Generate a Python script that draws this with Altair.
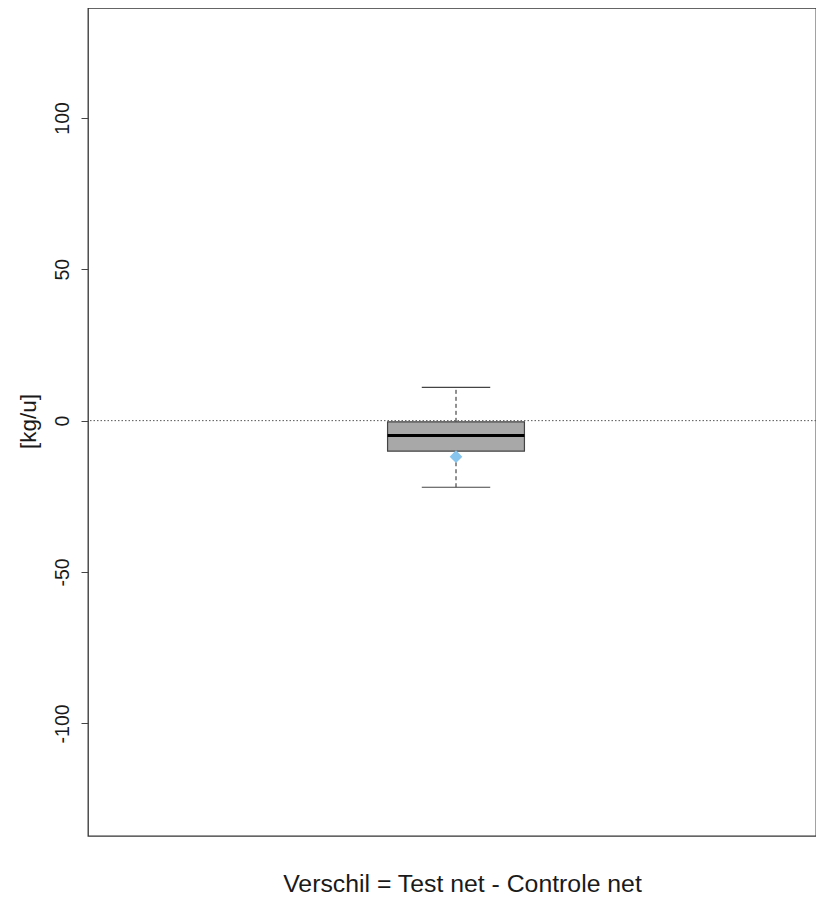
import altair as alt
import pandas as pd

# --- data ---
groups = ["Verschil"]
pos = [1.0]
q1 = [-10.1]
median = [-4.9]
q3 = [-0.4]
whisker_low = [-22.0]
whisker_high = [11.0]
mean = [-11.9]
y_ticks = [-100, -50, 0, 50, 100]
ref_value = [0]

BOX_HALF = 0.094
CAP_HALF = 0.047
Y_DOMAIN = [-137.2, 136.3]
X_DOMAIN = [0.4945, 1.4945]
FONT = "Liberation Sans"
PLOT_W = 728
PLOT_H = 828

df = pd.DataFrame({
    "group": groups, "pos": pos, "q1": q1, "median": median, "q3": q3,
    "wlo": whisker_low, "whi": whisker_high, "mean": mean,
})
df["box_lo"] = df["pos"] - BOX_HALF
df["box_hi"] = df["pos"] + BOX_HALF
df["cap_lo"] = df["pos"] - CAP_HALF
df["cap_hi"] = df["pos"] + CAP_HALF
ref = pd.DataFrame({"v": ref_value})

yscale = alt.Scale(domain=Y_DOMAIN, nice=False, zero=False)
xscale = alt.Scale(domain=X_DOMAIN, nice=False, zero=False)

yaxis = alt.Axis(values=y_ticks, labelAngle=-90, labelAlign="center", labelBaseline="alphabetic",
                 labelExpr="replace(datum.label, '\u2212', '-')",
                 tickSize=7, labelPadding=13, labelFontSize=19.5, labelColor="#1a1a1a",
                 tickColor="#444", tickWidth=1, domain=False, grid=False, title="[kg/u]",
                 titleFontSize=22.5, titleFontWeight="normal", titleColor="#1a1a1a",
                 titleAngle=-90, titleAlign="center", titleBaseline="alphabetic",
                 titleX=-52.6, titleY=413, labelFont=FONT, titleFont=FONT)
xaxis = alt.Axis(labels=False, ticks=False, domain=False, grid=False,
                 title="Verschil = Test net - Controle net", titleFontSize=24.8,
                 titleFontWeight="normal", titleColor="#1a1a1a",
                 titleAlign="center", titleBaseline="alphabetic",
                 titleX=374, titleY=55, titleFont=FONT)

refline = alt.Chart(ref).mark_rule(color="#555", strokeDash=[1.5, 2], strokeWidth=1).encode(
    y=alt.Y("v:Q", scale=yscale, axis=yaxis)
)

base = alt.Chart(df)

wh_up = base.mark_rule(color="#222", strokeDash=[4, 3], strokeWidth=1).encode(
    x=alt.X("pos:Q", scale=xscale, axis=xaxis),
    y=alt.Y("q3:Q", scale=yscale), y2="whi:Q")
wh_lo = base.mark_rule(color="#222", strokeDash=[4, 3], strokeWidth=1).encode(
    x=alt.X("pos:Q", scale=xscale), y=alt.Y("wlo:Q", scale=yscale), y2="q1:Q")
cap_up = base.mark_rule(color="#444", strokeWidth=1.2).encode(
    x=alt.X("cap_lo:Q", scale=xscale), x2="cap_hi:Q", y=alt.Y("whi:Q", scale=yscale))
cap_lo = base.mark_rule(color="#444", strokeWidth=1.2).encode(
    x=alt.X("cap_lo:Q", scale=xscale), x2="cap_hi:Q", y=alt.Y("wlo:Q", scale=yscale))
box = base.mark_rect(fill="#a8a8a8", stroke="#444", strokeWidth=1.2).encode(
    x=alt.X("box_lo:Q", scale=xscale), x2="box_hi:Q",
    y=alt.Y("q1:Q", scale=yscale), y2="q3:Q")
med = base.mark_rule(color="#000", strokeWidth=3).encode(
    x=alt.X("box_lo:Q", scale=xscale), x2="box_hi:Q", y=alt.Y("median:Q", scale=yscale))
mn = base.mark_point(shape="diamond", filled=True, color="#87c4ee", opacity=1, size=160).encode(
    x=alt.X("pos:Q", scale=xscale), y=alt.Y("mean:Q", scale=yscale))

chart = alt.layer(refline, wh_up, wh_lo, cap_up, cap_lo, box, med, mn).properties(
    width=PLOT_W, height=PLOT_H,
    autosize=alt.AutoSizeParams(type="none"),
    padding={"left": 80, "top": 0, "right": 0, "bottom": 59},
    background="white",
).configure_view(stroke="#333", strokeWidth=1.3)

chart.save("out.html", embed_options={"renderer": "svg", "actions": False})
